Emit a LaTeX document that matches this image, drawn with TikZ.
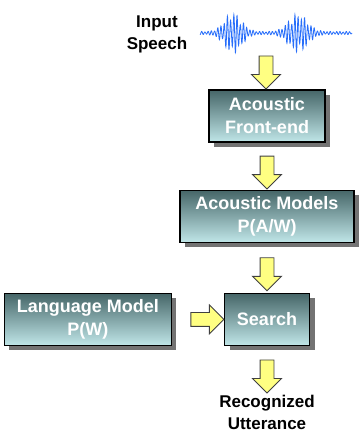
\documentclass[tikz,border=0pt]{standalone}
\usepackage{fontspec}
\setmainfont{Liberation Sans}
\usetikzlibrary{positioning, shapes.arrows, shadows, calc}
\definecolor{boxtop}{RGB}{70,102,104}
\definecolor{boxbottom}{RGB}{192,230,232}
\definecolor{arrowfill}{RGB}{255,255,130}
\definecolor{wavecol}{RGB}{40,110,250}
\tikzset{
  stage/.style={draw=black, line width=1.2pt, top color=boxtop,
    bottom color=boxbottom, text=white, align=center,
    font=\bfseries\fontsize{18}{23}\selectfont,
    minimum height=52pt, inner sep=0pt,
    drop shadow={shadow xshift=5pt, shadow yshift=-5pt,
      fill=black!55, opacity=1}}, % grey box shadow
  flow/.style={single arrow, draw=black!75, line width=0.9pt,
    fill=arrowfill, text height=6.5pt, text depth=6.5pt,
    minimum height=33pt, single arrow head extend=7.5pt, inner sep=0pt},
  label text/.style={align=center, text=black,
    font=\bfseries\fontsize{17}{22}\selectfont},
}

\begin{document}
\begin{tikzpicture}[x=1pt, y=-1pt]
  \useasboundingbox (0,0) rectangle (364,432);

  \node[label text] (speech) at (157,34) {Input\\Speech};
  % the speech signal
  \draw[wavecol, line width=0.8pt] plot[domain=200:352, samples=800]
    (\x, {33 + (1.6 + 19*exp(0-min(((\x-233)/12)^2,15))
      + 18*exp(0-min(((\x-298)/13)^2,15)))*(0.5+0.5*abs(sin(\x*21)))
      *sin(mod(\x,45)*112)});

  \node[stage, minimum width=116pt] (frontend) at (267,116) {Acoustic\\Front-end};
  \node[stage, minimum width=174pt, below=47pt of frontend] (models)
    {Acoustic Models\\P(A/W)};
  \node[stage, minimum width=85pt, below=50pt of models] (search) {Search};
  \node[stage, minimum width=167pt, left=52pt of search] (langmodel)
    {Language Model\\P(W)};
  \node[label text] (recog) at (267,412) {Recognized\\Utterance};

  \node[flow, rotate=-90] (a_in) at (266,69) {};
  \node[flow, rotate=-90] (a_fe)
    at ($(frontend.south)!0.5!(models.north)+(0,3)$) {};
  \node[flow, rotate=-90] (a_am)
    at ($(models.south)!0.5!(search.north)+(0,3)$) {};
  \node[flow] (a_lm) at ($(langmodel.east)!0.5!(search.west)+(6,0)$) {};
  \node[flow, rotate=-90] (a_out) at ($(search.south)+(0,27)$) {};
\end{tikzpicture}
\end{document}
